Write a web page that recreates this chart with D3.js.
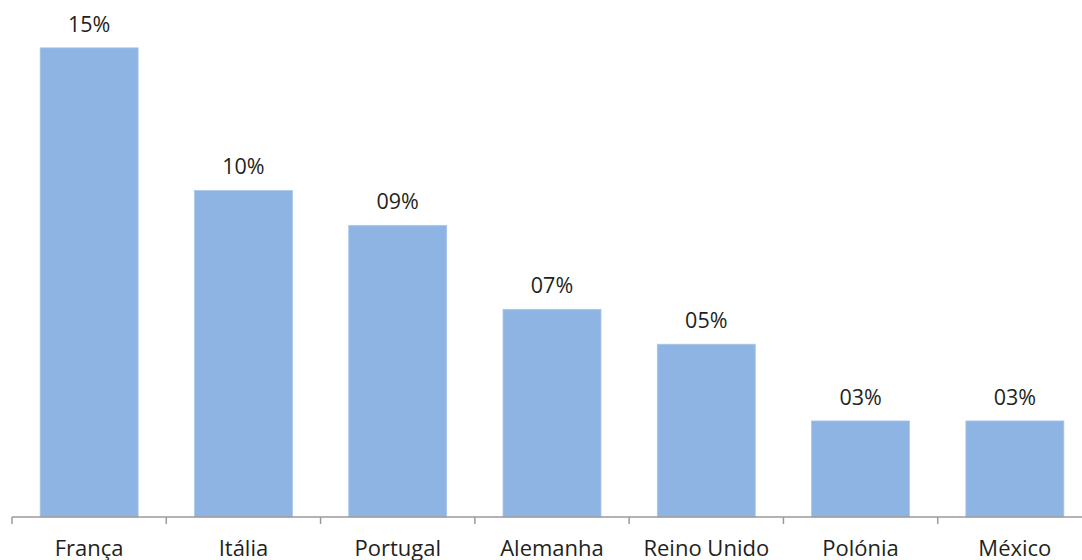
<!DOCTYPE html>
<html>
<head>
<meta charset="utf-8">
<script src="https://cdn.jsdelivr.net/npm/d3@7"></script>
<style>
  html, body { margin: 0; padding: 0; background: #fff; }
  svg { display: block; }
  text { font-family: "Open Sans", "Noto Sans", sans-serif; fill: #231f20; }
</style>
</head>
<body>
<svg id="chart" width="1082" height="560"></svg>
<script>
// Share by country (%)
const countries = ["França", "Itália", "Portugal", "Alemanha", "Reino Unido", "Polónia", "México"];
const shares = [14.8, 10.3, 9.2, 6.55, 5.45, 3.03, 3.03];

const svg = d3.select("#chart");
const baseY = 517;

const x = d3.scaleBand()
  .domain(countries)
  .range([12, 1092])
  .paddingInner(0.365)
  .paddingOuter(0.1825);

const y = d3.scaleLinear()
  .domain([0, 16])
  .range([baseY, baseY - 16 * 31.7]);

const fmt = v => d3.format("02.0f")(v) + "%";

// Bars
svg.append("g")
  .selectAll("rect")
  .data(countries)
  .join("rect")
  .attr("x", d => x(d))
  .attr("width", x.bandwidth())
  .attr("y", (d, i) => y(shares[i]))
  .attr("height", (d, i) => y(0) - y(shares[i]))
  .attr("fill", "#8eb4e3")
  .attr("stroke", "#a9c6ea")
  .attr("stroke-width", 0.8);

// Value labels
svg.append("g")
  .selectAll("text")
  .data(countries)
  .join("text")
  .attr("x", d => x(d) + x.bandwidth() / 2)
  .attr("y", (d, i) => y(shares[i]) - 16)
  .attr("text-anchor", "middle")
  .attr("font-size", 21.5)
  .text((d, i) => fmt(shares[i]));

// Category axis with ticks between bands
const axisG = svg.append("g").attr("transform", `translate(0,${baseY})`);
const step = x.step();
const start = x.range()[0];
const edges = d3.range(countries.length + 1).map(i => start + i * step);

axisG.append("line")
  .attr("x1", start).attr("x2", start + countries.length * step)
  .attr("y1", 0).attr("y2", 0)
  .attr("stroke", "#9a9a9a").attr("stroke-width", 1.5);

axisG.selectAll("line.tick")
  .data(edges)
  .join("line")
  .attr("class", "tick")
  .attr("x1", d => d).attr("x2", d => d)
  .attr("y1", 0).attr("y2", 7)
  .attr("stroke", "#9a9a9a").attr("stroke-width", 1.5);

axisG.selectAll("text")
  .data(countries)
  .join("text")
  .attr("x", d => x(d) + x.bandwidth() / 2)
  .attr("y", 38.5)
  .attr("text-anchor", "middle")
  .attr("font-size", 22)
  .text(d => d);
</script>
</body>
</html>
